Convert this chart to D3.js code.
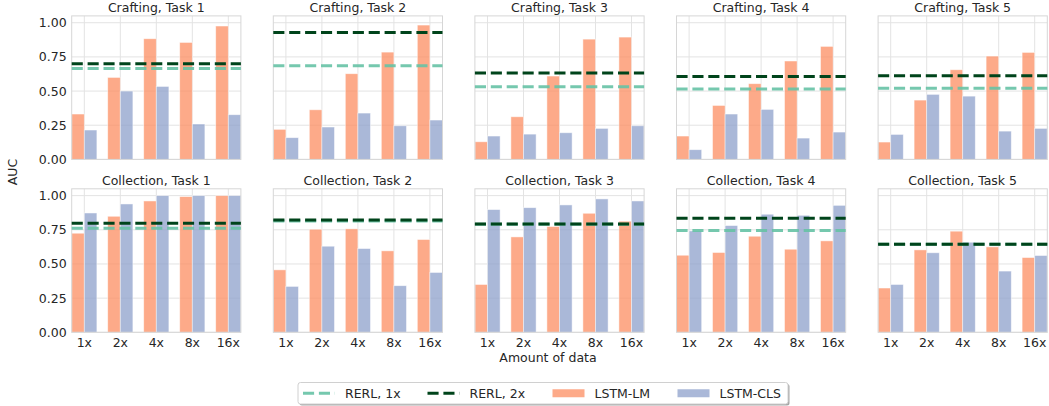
<!DOCTYPE html>
<html>
<head>
<meta charset="utf-8">
<script src="https://cdn.jsdelivr.net/npm/d3@7"></script>
<style>
  html, body { margin: 0; padding: 0; background: #fff; }
  svg { display: block; font-family: "DejaVu Sans", sans-serif; }
</style>
</head>
<body>
<svg id="chart" width="1049" height="406"></svg>
<script>
// Amount of training data per group
const categories = ["1x", "2x", "4x", "8x", "16x"];
const yTicks = [0, 0.25, 0.5, 0.75, 1.0];
const rowNames = ["Crafting", "Collection"];
const taskNames = ["Task 1", "Task 2", "Task 3", "Task 4", "Task 5"];

// LSTM-LM AUC, one array per task
const craftingLM = [
  [0.332, 0.600, 0.883, 0.856, 0.976],
  [0.220, 0.363, 0.627, 0.785, 0.983],
  [0.129, 0.312, 0.610, 0.880, 0.895],
  [0.171, 0.395, 0.554, 0.720, 0.827],
  [0.127, 0.434, 0.656, 0.756, 0.783]
];
const collectionLM = [
  [0.725, 0.849, 0.961, 0.993, 1.000],
  [0.457, 0.754, 0.757, 0.596, 0.679],
  [0.350, 0.698, 0.774, 0.871, 0.813],
  [0.564, 0.584, 0.703, 0.608, 0.669],
  [0.324, 0.603, 0.740, 0.625, 0.547]
];
// LSTM-CLS AUC, one array per task
const craftingCLS = [
  [0.215, 0.500, 0.534, 0.259, 0.327],
  [0.159, 0.237, 0.339, 0.246, 0.288],
  [0.171, 0.185, 0.195, 0.227, 0.246],
  [0.071, 0.332, 0.366, 0.156, 0.200],
  [0.183, 0.476, 0.463, 0.207, 0.227]
];
const collectionCLS = [
  [0.873, 0.939, 1.000, 1.000, 1.000],
  [0.336, 0.630, 0.613, 0.341, 0.438],
  [0.898, 0.912, 0.932, 0.976, 0.961],
  [0.742, 0.781, 0.864, 0.856, 0.929],
  [0.350, 0.582, 0.659, 0.448, 0.562]
];
// RERL reference AUC per task
const craftingRERL1x = [0.666, 0.685, 0.532, 0.515, 0.520];
const craftingRERL2x = [0.700, 0.929, 0.632, 0.607, 0.612];
const collectionRERL1x = [0.762, 0.815, 0.790, 0.745, 0.645];
const collectionRERL2x = [0.798, 0.822, 0.793, 0.835, 0.645];

const seriesNames = ["LSTM-LM", "LSTM-CLS"];
const lineNames = ["RERL, 1x", "RERL, 2x"];

const colors = {
  lm: "#fc8d62",
  cls: "#8da0cb",
  rerl1: "#66c2a5",
  rerl2: "#00441b"
};
const textColor = "#262626";
const gridColor = "#e3e3e3";
const spineColor = "#d6d6d6";
const fontSize = 12.5;

const rows = [
  { name: rowNames[0], lm: craftingLM, cls: craftingCLS, r1: craftingRERL1x, r2: craftingRERL2x },
  { name: rowNames[1], lm: collectionLM, cls: collectionCLS, r1: collectionRERL1x, r2: collectionRERL2x }
];

const svg = d3.select("#chart");

const panelW = 169.2, panelH = 143.5;
const colLeft = 71.7, colStep = 201.6;
const rowTop = [15.9, 188.8];

const x = d3.scaleBand().domain(categories).range([0, panelW]).paddingInner(0.3).paddingOuter(0);
const xSeries = d3.scaleBand().domain(seriesNames).range([0, x.bandwidth()]).padding(0);
const y = d3.scaleLinear().domain([0, 1.05]).range([panelH, 0]);

const dash = "11.1,4.8";

rows.forEach((row, ri) => {
  taskNames.forEach((task, ci) => {
    const g = svg.append("g")
      .attr("transform", `translate(${colLeft + ci * colStep},${rowTop[ri]})`);

    // grid
    g.append("g").selectAll("line.h").data(yTicks).join("line")
      .attr("x1", 0).attr("x2", panelW)
      .attr("y1", d => y(d)).attr("y2", d => y(d))
      .attr("stroke", gridColor).attr("stroke-width", 1);
    g.append("g").selectAll("line.v").data(categories).join("line")
      .attr("x1", d => x(d) + x.bandwidth() / 2).attr("x2", d => x(d) + x.bandwidth() / 2)
      .attr("y1", 0).attr("y2", panelH)
      .attr("stroke", gridColor).attr("stroke-width", 1);

    // bars
    const bars = categories.map((c, i) => [
      { cat: c, s: seriesNames[0], v: row.lm[ci][i], color: colors.lm },
      { cat: c, s: seriesNames[1], v: row.cls[ci][i], color: colors.cls }
    ]).flat();
    g.append("g").selectAll("rect").data(bars).join("rect")
      .attr("x", d => x(d.cat) + xSeries(d.s))
      .attr("width", xSeries.bandwidth())
      .attr("y", d => y(d.v))
      .attr("height", d => y(0) - y(d.v))
      .attr("fill", d => d.color)
      .attr("fill-opacity", 0.75)
      .attr("stroke", "#ffffff")
      .attr("stroke-opacity", 0.6)
      .attr("stroke-width", 0.8);

    // spines
    g.append("rect")
      .attr("x", 0).attr("y", 0).attr("width", panelW).attr("height", panelH)
      .attr("fill", "none").attr("stroke", spineColor).attr("stroke-width", 1);

    // reference lines
    const refs = [
      { v: row.r1[ci], color: colors.rerl1, op: 0.9 },
      { v: row.r2[ci], color: colors.rerl2, op: 1 }
    ];
    g.append("g").selectAll("line").data(refs).join("line")
      .attr("x1", 0).attr("x2", panelW)
      .attr("y1", d => y(d.v)).attr("y2", d => y(d.v))
      .attr("stroke", d => d.color).attr("stroke-opacity", d => d.op)
      .attr("stroke-width", 3).attr("stroke-dasharray", dash);

    // title
    g.append("text")
      .attr("x", panelW / 2).attr("y", -4)
      .attr("text-anchor", "middle")
      .attr("fill", textColor).attr("font-size", fontSize)
      .text(`${row.name}, ${task}`);

    // y axis labels
    if (ci === 0) {
      const ya = g.append("g").call(d3.axisLeft(y).tickValues(yTicks).tickFormat(d3.format(".2f")).tickSize(0).tickPadding(5));
      ya.select(".domain").remove();
      ya.selectAll("text").attr("fill", textColor).attr("font-size", fontSize).attr("font-family", "DejaVu Sans");
    }
    // x axis labels
    if (ri === 1) {
      const xa = g.append("g").attr("transform", `translate(0,${panelH})`)
        .call(d3.axisBottom(x).tickSize(0).tickPadding(6));
      xa.select(".domain").remove();
      xa.selectAll("text").attr("fill", textColor).attr("font-size", fontSize).attr("font-family", "DejaVu Sans");
    }
  });
});

// axis titles
svg.append("text")
  .attr("transform", "translate(17,172) rotate(-90)")
  .attr("text-anchor", "middle")
  .attr("fill", textColor).attr("font-size", fontSize)
  .text("AUC");
svg.append("text")
  .attr("x", 548).attr("y", 362)
  .attr("text-anchor", "middle")
  .attr("fill", textColor).attr("font-size", fontSize)
  .text("Amount of data");

// legend
const legend = svg.append("g").attr("transform", "translate(298,382.5)");
const legW = 490, legH = 21.5;
legend.append("rect")
  .attr("x", 1.5).attr("y", 1.5).attr("width", legW).attr("height", legH)
  .attr("rx", 2.5).attr("fill", "#000").attr("fill-opacity", 0.35);
legend.append("rect")
  .attr("x", 0).attr("y", 0).attr("width", legW).attr("height", legH)
  .attr("rx", 2.5).attr("fill", "#fff").attr("stroke", "#d0d0d0").attr("stroke-width", 1);

const legItems = [
  { label: lineNames[0], type: "line", color: colors.rerl1, op: 0.9, x: 5 },
  { label: lineNames[1], type: "line", color: colors.rerl2, op: 1, x: 129.5 },
  { label: seriesNames[0], type: "patch", color: colors.lm, x: 254.5 },
  { label: seriesNames[1], type: "patch", color: colors.cls, x: 379.5 }
];
const li = legend.selectAll("g.item").data(legItems).join("g")
  .attr("transform", d => `translate(${d.x},0)`);
li.filter(d => d.type === "line").append("line")
  .attr("x1", 0).attr("x2", 32).attr("y1", legH / 2).attr("y2", legH / 2)
  .attr("stroke", d => d.color).attr("stroke-opacity", d => d.op)
  .attr("stroke-width", 3).attr("stroke-dasharray", dash);
li.filter(d => d.type === "patch").append("rect")
  .attr("x", 0).attr("y", legH / 2 - 4).attr("width", 32).attr("height", 8)
  .attr("fill", d => d.color).attr("fill-opacity", 0.75);
li.append("text")
  .attr("x", 42).attr("y", legH / 2).attr("dy", "0.36em")
  .attr("fill", textColor).attr("font-size", fontSize)
  .text(d => d.label);
</script>
</body>
</html>
